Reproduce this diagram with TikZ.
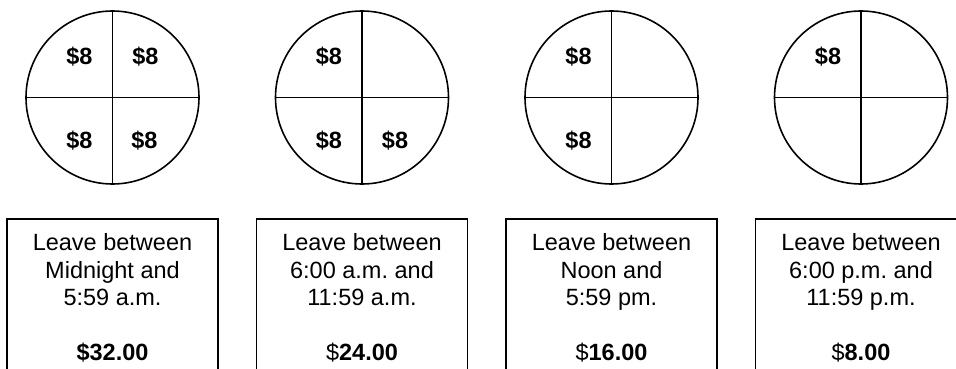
\documentclass[tikz,border=0pt]{standalone}
\usepackage{fontspec}
\setmainfont{Liberation Sans}
\usetikzlibrary{positioning,calc}
\frenchspacing

\begin{document}
\begin{tikzpicture}[x=1pt, y=-1pt,
		coin/.style={draw, circle, line width=1.6pt,
			minimum size=173pt, inner sep=0pt},
		split/.style={draw, line width=1.6pt},
		fare/.style={font=\bfseries\fontsize{23.5}{27.5}\selectfont},
		timebox/.style={draw, line width=1.6pt, align=center,
			minimum width=211pt, minimum height=158pt,
			font=\fontsize{23.5}{27.5}\selectfont}
	]
	\useasboundingbox (0,0) rectangle (956,369);
	\clip (0,0) rectangle (956,369);

	% the four coins
	\node[coin] (c1) at (112.5,97.5) {};
	\node[coin] (c2) at (362,97.5) {};
	\node[coin] (c3) at (611.5,97.5) {};
	\node[coin] (c4) at (861,97.5) {};
	\foreach \c in {c1,c2,c3,c4} {
		\draw[split] (\c.north) -- (\c.south);
		\draw[split] (\c.west) -- (\c.east);
	}

	% quarters still paid
	\node[fare] (c1nw) at ($(c1)+(-33,-41)$) {\$8};
	\node[fare] (c1ne) at ($(c1)+(33,-41)$) {\$8};
	\node[fare] (c1sw) at ($(c1)+(-33,43)$) {\$8};
	\node[fare] (c1se) at ($(c1)+(32,43)$) {\$8};
	\node[fare] (c2nw) at ($(c2)+(-33,-41)$) {\$8};
	\node[fare] (c2sw) at ($(c2)+(-33,43)$) {\$8};
	\node[fare] (c2se) at ($(c2)+(33,43)$) {\$8};
	\node[fare] (c3nw) at ($(c3)+(-33,-41)$) {\$8};
	\node[fare] (c3sw) at ($(c3)+(-33,43)$) {\$8};
	\node[fare] (c4nw) at ($(c4)+(-33,-41)$) {\$8};

	% departure windows
	\node[timebox] (b1) at (112.5,298) {Leave between\\Midnight and\\5:59 a.m.\\[27.5pt]\textbf{\$32.00}};
	\node[timebox] (b2) at (362,298) {Leave between\\6:00 a.m. and\\11:59 a.m.\\[27.5pt]\$\textbf{24.00}};
	\node[timebox] (b3) at (611.5,298) {Leave between\\Noon and\\5:59 pm.\\[27.5pt]\$\textbf{16.00}};
	\node[timebox] (b4) at (861,298) {Leave between\\6:00 p.m. and\\11:59 p.m.\\[27.5pt]\$\textbf{8.00}};
\end{tikzpicture}
\end{document}
